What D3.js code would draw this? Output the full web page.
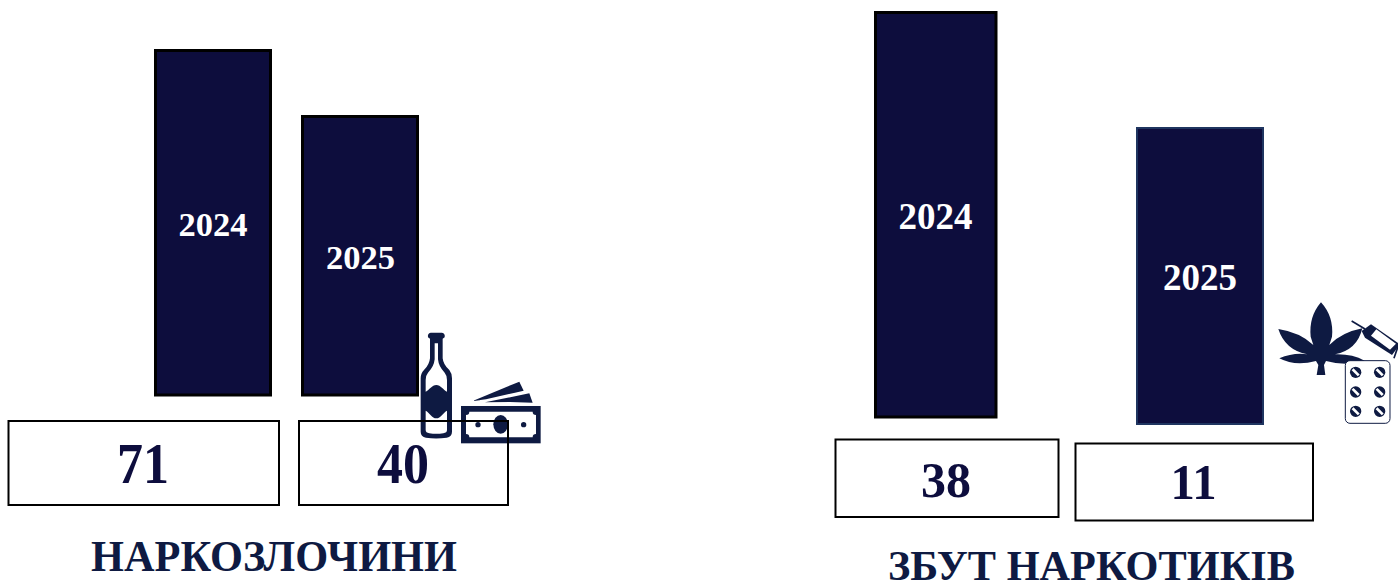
<!DOCTYPE html>
<html>
<head>
<meta charset="utf-8">
<script src="https://d3js.org/d3.v7.min.js"></script>
<style>
  html, body { margin: 0; padding: 0; background: #fff; overflow: hidden; }
  text { font-family: "Liberation Serif", serif; font-weight: bold; }
</style>
</head>
<body>
<div id="my_dataviz"></div>
<script>
var years = ["2024", "2025"];
var panelTitles = ["НАРКОЗЛОЧИНИ", "ЗБУТ НАРКОТИКІВ"];
var crimeValues = [71, 40];
var salesValues = [38, 11];

var navy = "#0d0d3d";
var iconNavy = "#0e1a42";

var svg = d3.select("#my_dataviz").append("svg").attr("width", 1398).attr("height", 583);

// bars are not on a shared baseline in the original, so each panel has its own scale
var panels = [
  {
    title: panelTitles[0], values: crimeValues,
    y: d3.scaleLinear().domain([40, 71]).range([116.5, 50.5]),
    barX: [155.5, 302.5], barW: [115, 115], base: [395, 395],
    stroke: ["#000", "#000"], sw: [3, 3],
    labelX: [213, 360.5], labelY: [235.5, 269], labelSize: 34.5,
    boxX: [8.5, 299], boxW: [270.5, 209], boxY: [421, 421], boxH: [84, 84],
    valX: [143, 403], valY: [483, 483], valSize: 56, valLen: [52, 52],
    titleX: 274, titleY: 571, titleSize: 43.5, titleLen: 366
  },
  {
    title: panelTitles[1], values: salesValues,
    y: d3.scaleLinear().domain([11, 38]).range([128, 12.5]),
    barX: [875.5, 1137], barW: [120.5, 126], base: [417, 424],
    stroke: ["#000", "#1f3560"], sw: [3, 2],
    labelX: [935.5, 1200], labelY: [229, 290], labelSize: 37,
    boxX: [835.5, 1075.5], boxW: [223, 237.5], boxY: [439.5, 443.5], boxH: [77.5, 77],
    valX: [946, 1193.5], valY: [497, 499], valSize: 50, valLen: [50, 46],
    titleX: 1091.5, titleY: 580, titleSize: 42.5, titleLen: 407
  }
];

panels.forEach(function (p) {
  var g = svg.append("g");

  g.selectAll("rect.bar").data(p.values).enter().append("rect")
    .attr("class", "bar")
    .attr("x", function (d, i) { return p.barX[i]; })
    .attr("y", function (d) { return p.y(d); })
    .attr("width", function (d, i) { return p.barW[i]; })
    .attr("height", function (d, i) { return p.base[i] - p.y(d); })
    .attr("fill", navy)
    .attr("stroke", function (d, i) { return p.stroke[i]; })
    .attr("stroke-width", function (d, i) { return p.sw[i]; });

  g.selectAll("text.year").data(years).enter().append("text")
    .attr("class", "year")
    .attr("x", function (d, i) { return p.labelX[i]; })
    .attr("y", function (d, i) { return p.labelY[i]; })
    .attr("text-anchor", "middle")
    .attr("fill", "#fff")
    .attr("font-size", p.labelSize)
    .text(function (d) { return d; });
});

// icons sit under the value boxes, the box outline crosses them
function bottleAndCash() {
  var g = svg.append("g").attr("transform", "translate(400,320) scale(0.3333)");
  g.append("path").attr("fill", iconNavy)
    .attr("d", "M92,38 H126 Q136,40 134,52 L128,56 V115 Q130,135 148,150 Q156,160 156,175 V335 Q156,350 140,353 Q108,358 78,353 Q62,350 62,335 V175 Q62,160 72,150 Q88,135 90,115 V56 L84,52 Q82,40 92,38 Z");
  g.append("path").attr("fill", "#fff")
    .attr("d", "M104,70 H114 V118 Q116,140 134,158 Q141,166 141,180 V215 C130,210 122,195 109,195 C96,195 88,210 77,215 V180 Q77,166 84,158 Q102,140 104,118 Z");
  g.append("path").attr("fill", "#fff")
    .attr("d", "M77,272 C88,277 96,295 109,295 C122,295 130,277 141,272 V330 Q141,338 130,340 Q109,343 88,340 Q77,338 77,330 Z");
  g.append("path").attr("fill", iconNavy)
    .attr("d", "M218,243 L358,185 L371,212 L345,218 L258,238 Z");
  g.append("path").attr("fill", iconNavy)
    .attr("d", "M255,247 L388,220 L398,248 L330,246 Z");
  g.append("rect").attr("x", 183).attr("y", 258).attr("width", 239).attr("height", 112).attr("fill", iconNavy);
  g.append("path").attr("fill", "#fff")
    .attr("d", "M208,275 H398 Q398,285 408,285 V342 Q398,342 398,352 H208 Q208,342 198,342 V285 Q208,285 208,275 Z");
  g.append("ellipse").attr("cx", 302).attr("cy", 313).attr("rx", 22).attr("ry", 28).attr("fill", iconNavy);
  g.selectAll("circle").data([234, 371]).enter().append("circle")
    .attr("cx", function (d) { return d; }).attr("cy", 314).attr("r", 8).attr("fill", iconNavy);
}

function leafAndPills() {
  var g = svg.append("g").attr("transform", "translate(1270,295) scale(0.3333)");
  g.append("path").attr("fill", iconNavy)
    .attr("d", "M153,22 Q192,65 186,125 L178,150 Q215,112 277,100 Q262,165 195,178 Q245,176 284,197 Q230,215 168,198 L162,210 L166,240 H140 L145,210 L138,198 Q75,215 28,190 Q70,172 112,178 Q45,165 25,102 Q90,112 130,150 L122,125 Q116,65 153,22 Z");
  // syringe, runs off the right edge
  g.append("path").attr("fill", "none").attr("stroke", iconNavy).attr("stroke-width", 5)
    .attr("d", "M245,78 L285,102");
  g.append("path").attr("fill", iconNavy)
    .attr("d", "M275,108 L303,88 L390,148 L366,180 L285,128 Z");
  g.append("path").attr("fill", "#fff")
    .attr("d", "M303,122 L319,103 L378,146 L360,164 Z");
  g.append("path").attr("fill", "none").attr("stroke", iconNavy).attr("stroke-width", 5)
    .attr("d", "M388,142 L372,190");
  // blister
  g.append("rect").attr("x", 226).attr("y", 197).attr("width", 134).attr("height", 188)
    .attr("rx", 14).attr("fill", "#fff").attr("stroke", iconNavy).attr("stroke-width", 3);
  var pills = [];
  [232, 291, 349].forEach(function (py) {
    [257, 329].forEach(function (px) { pills.push([px, py]); });
  });
  var pg = g.selectAll("g.pill").data(pills).enter().append("g").attr("class", "pill")
    .attr("transform", function (d) { return "translate(" + d[0] + "," + d[1] + ") rotate(45)"; });
  pg.append("circle").attr("r", 17).attr("fill", iconNavy);
  pg.append("rect").attr("x", -13).attr("y", -4).attr("width", 26).attr("height", 8).attr("fill", "#fff");
}

bottleAndCash();
leafAndPills();

panels.forEach(function (p) {
  var g = svg.append("g");

  g.selectAll("rect.box").data(p.values).enter().append("rect")
    .attr("class", "box")
    .attr("x", function (d, i) { return p.boxX[i]; })
    .attr("y", function (d, i) { return p.boxY[i]; })
    .attr("width", function (d, i) { return p.boxW[i]; })
    .attr("height", function (d, i) { return p.boxH[i]; })
    .attr("fill", "none")
    .attr("stroke", "#000")
    .attr("stroke-width", 2);

  g.selectAll("text.value").data(p.values).enter().append("text")
    .attr("class", "value")
    .attr("x", function (d, i) { return p.valX[i]; })
    .attr("y", function (d, i) { return p.valY[i]; })
    .attr("text-anchor", "middle")
    .attr("fill", navy)
    .attr("font-size", p.valSize)
    .attr("textLength", function (d, i) { return p.valLen[i]; })
    .attr("lengthAdjust", "spacingAndGlyphs")
    .text(function (d) { return d; });

  g.append("text")
    .attr("x", p.titleX)
    .attr("y", p.titleY)
    .attr("text-anchor", "middle")
    .attr("fill", iconNavy)
    .attr("font-size", p.titleSize)
    .attr("textLength", p.titleLen)
    .attr("lengthAdjust", "spacingAndGlyphs")
    .text(p.title);
});
</script>
</body>
</html>
